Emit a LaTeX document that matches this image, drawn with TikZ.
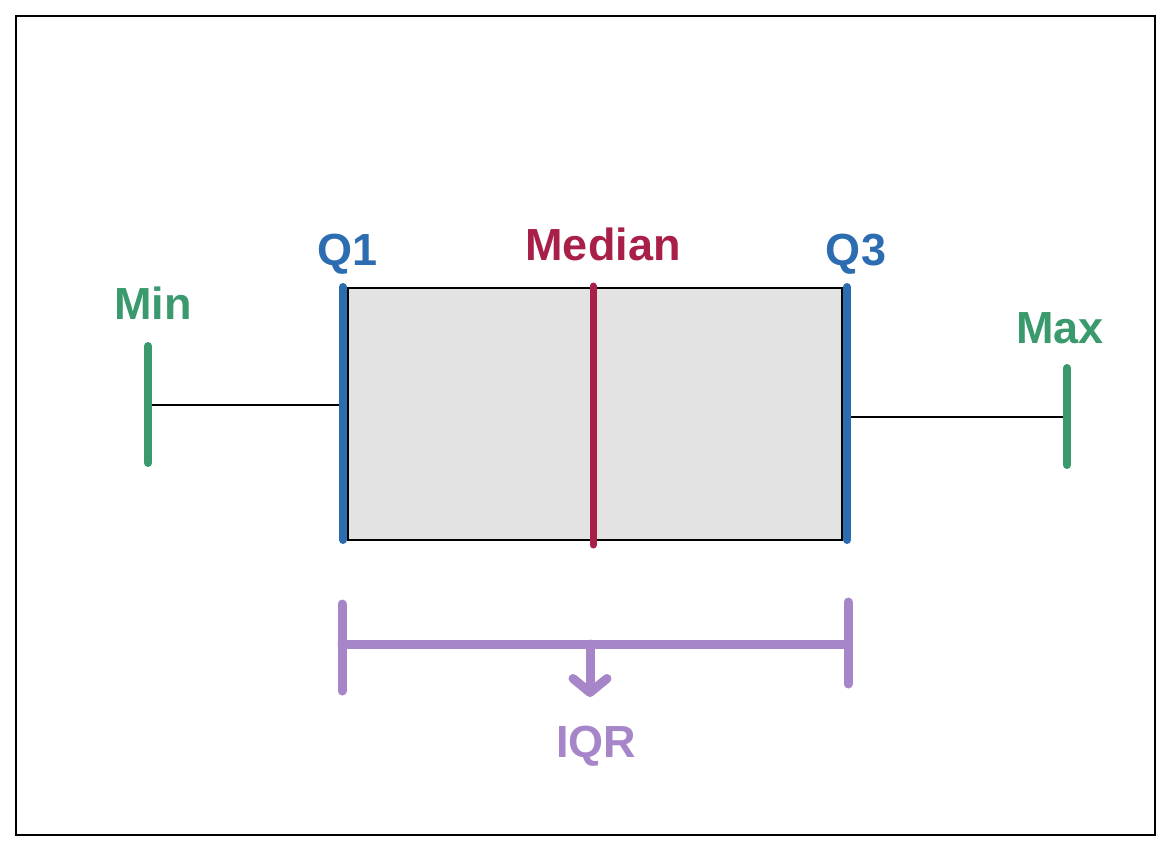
\documentclass[tikz,border=0pt]{standalone}
\usepackage{fontspec}
\setmainfont{Liberation Sans}
\usepackage{tikz}
\usetikzlibrary{arrows.meta}
\definecolor{qblue}{RGB}{44,108,176}
\definecolor{mgreen}{RGB}{58,154,110}
\definecolor{medred}{RGB}{168,31,72}
\definecolor{iqrpurple}{RGB}{166,134,200}
\definecolor{boxgray}{RGB}{227,227,227}
\begin{document}
\begin{tikzpicture}[x=1pt,y=-1pt]
	\tikzstyle{frame}=[draw=black, line width=2pt]
\tikzstyle{box}=[rectangle, draw=black, fill=boxgray, line width=2.2pt, inner sep=0pt, anchor=north west]
\tikzstyle{whisker}=[draw=black, line width=2pt]
\tikzstyle{quart}=[draw=qblue, line width=8pt, line cap=round]
\tikzstyle{median}=[draw=medred, line width=7pt, line cap=round]
\tikzstyle{ends}=[draw=mgreen, line width=8pt, line cap=round]
\tikzstyle{iqr}=[draw=iqrpurple, line width=9pt, line cap=round]
\tikzstyle{connect}=[iqr, -{Straight Barb[length=14pt, width=34pt, line cap=round, line join=round]}]
\tikzstyle{lab}=[inner sep=0pt, anchor=base, font=\fontsize{45}{54}\selectfont\bfseries]
  \useasboundingbox (0,0) rectangle (1172,855);
  \draw[frame] (16,16) rectangle (1155,835);
  \node[box, minimum width=494pt, minimum height=252pt] (box) at (347,287) {};
  % quartiles and median
  \coordinate (q1t) at (343,287);
  \coordinate (q1b) at (343,540);
  \coordinate (q3t) at (847,287);
  \coordinate (q3b) at (847,540);
  \coordinate (medt) at (593,286);
  \coordinate (medb) at (593,545);
  % min and max
  \coordinate (mint) at (148,346);
  \coordinate (minb) at (148,463);
  \coordinate (minw) at (148,405);
  \coordinate (q1w) at (343,405);
  \coordinate (maxt) at (1067,368);
  \coordinate (maxb) at (1067,465);
  \coordinate (maxw) at (1067,417);
  \coordinate (q3w) at (847,417);
  % iqr bracket
  \coordinate (il) at (342,644);
  \coordinate (ir) at (848,644);
  \coordinate (ilt) at (342,604);
  \coordinate (ilb) at (342,691);
  \coordinate (irt) at (848,602);
  \coordinate (irb) at (848,684);
  \coordinate (im) at (590,644);
  \coordinate (iarrow) at (590,697);
  \path
        (minw) edge [whisker] (q1w)
        (q3w) edge [whisker] (maxw);
  \draw[quart] (q1t) -- (q1b);
  \draw[quart] (q3t) -- (q3b);
  \draw[median] (medt) -- (medb);
  \draw[ends] (mint) -- (minb);
  \draw[ends] (maxt) -- (maxb);
  \draw[iqr] (il) -- (ir);
  \draw[iqr] (ilt) -- (ilb);
  \draw[iqr] (irt) -- (irb);
  \draw[connect] (im) -- (iarrow);
  % labels
  \node[lab, text=mgreen] (minlab) at (153,319) {Min};
  \node[lab, text=qblue] (q1lab) at (348,265) {Q1};
  \node[lab, text=medred] (medlab) at (603,260) {Median};
  \node[lab, text=qblue] (q3lab) at (856,265) {Q3};
  \node[lab, text=mgreen] (maxlab) at (1060,343) {Max};
  \node[lab, text=iqrpurple] (iqrlab) at (596,757) {IQR};

	\end{tikzpicture}
\end{document}
